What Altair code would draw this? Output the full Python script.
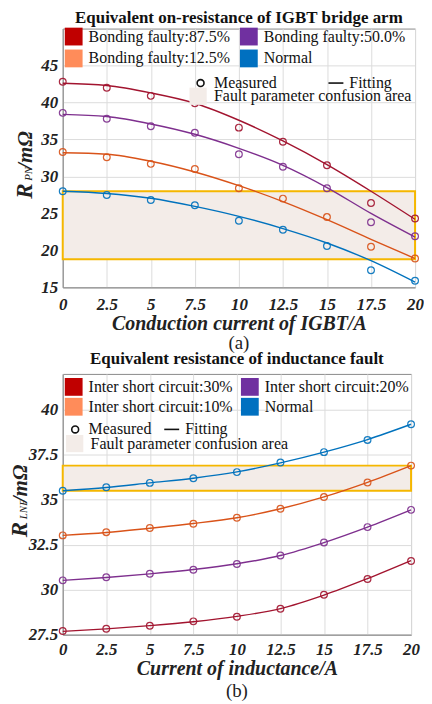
import altair as alt
import pandas as pd

# ---------------- data ----------------
currents = [0, 2.5, 5, 7.5, 10, 12.5, 15, 17.5, 20]

# (a) IGBT bridge arm
a_series = ["Bonding  faulty:87.5%", "Bonding  faulty:50.0%", "Bonding  faulty:12.5%", "Normal"]
a_meas_875 = [42.8, 42.0, 40.9, 39.9, 36.6, 34.7, 31.5, 26.4, 24.3]
a_meas_500 = [38.6, 37.8, 36.8, 35.9, 33.0, 31.3, 28.4, 23.8, 21.9]
a_meas_125 = [33.3, 32.6, 31.7, 31.0, 28.4, 27.0, 24.5, 20.5, 18.9]
a_meas_norm = [28.0, 27.5, 26.8, 26.1, 24.0, 22.8, 20.6, 17.3, 15.9]
a_fit_875 = [42.6, 42.3, 41.3, 39.9, 37.6, 34.8, 31.6, 28.0, 24.2]
a_fit_500 = [38.4, 38.1, 37.1, 35.7, 33.8, 31.5, 28.5, 25.0, 21.8]
a_fit_125 = [33.2, 33.0, 32.05, 30.6, 28.75, 26.6, 24.15, 21.5, 18.9]
a_fit_norm = [28.0, 27.7, 27.05, 25.95, 24.6, 22.95, 21.0, 18.6, 15.7]
a_area = [0, 20, 18.8, 28.0]  # x0, x1, y0, y1

# (b) inductance
b_series = ["Inter short circuit:30%", "Inter short circuit:20%", "Inter short circuit:10%", "Normal"]
b_meas_30 = [27.7, 27.83, 28.0, 28.24, 28.5, 28.94, 29.72, 30.6, 31.6]
b_meas_20 = [30.52, 30.69, 30.89, 31.11, 31.43, 31.9, 32.63, 33.48, 34.44]
b_meas_10 = [33.02, 33.2, 33.43, 33.67, 34.0, 34.5, 35.15, 35.96, 36.9]
b_meas_norm = [35.5, 35.7, 35.94, 36.2, 36.54, 37.07, 37.65, 38.33, 39.2]
b_fit_30 = [27.68, 27.82, 28.0, 28.22, 28.52, 28.95, 29.7, 30.62, 31.62]
b_fit_20 = [30.52, 30.68, 30.88, 31.12, 31.44, 31.9, 32.62, 33.48, 34.44]
b_fit_10 = [33.02, 33.18, 33.42, 33.68, 34.0, 34.5, 35.16, 35.97, 36.9]
b_fit_norm = [35.5, 35.68, 35.94, 36.2, 36.55, 37.05, 37.65, 38.35, 39.2]
b_area = [0, 20, 35.5, 36.9]

kinds = ["Measured", "Fitting"]
area_name = "Fault parameter confusion area"

line_colors = ["#A2142F", "#7E2F8E", "#D95319", "#0072BD"]
legend_colors = ["#C00000", "#7030A0", "#FF8C5A", "#0070C0"]

SERIF = "Liberation Serif"
GOLD = "#F5B700"
CIRCLE = "M-0.46,0A0.46,0.46 0 1,1 0.46,0A0.46,0.46 0 1,1 -0.46,0Z"
DASH = "M-1,0H1"


def long_df(series, lists):
    rows = []
    for s, vals in zip(series, lists):
        for x, v in zip(currents, vals):
            rows.append({"series": s, "x": x, "y": v})
    return pd.DataFrame(rows)


def panel(title, series, meas, fit, area, ydom, yticks, xtitle, w, h,
          ytitle_parts, tag, leg):
    dm = long_df(series, meas)
    dfit = long_df(series, fit)
    darea = pd.DataFrame({"x0": [area[0]], "x1": [area[1]], "y0": [area[2]],
                          "y1": [area[3]], "name": [area_name]})
    dkind = pd.DataFrame({"kind": kinds})

    xs = alt.Scale(domain=[0, 20], nice=False, zero=False)
    ys = alt.Scale(domain=ydom, nice=False, zero=False)
    xax = alt.Axis(values=currents, title=xtitle, grid=True, ticks=False,
                   labelExpr="'' + datum.value", labelFlush=False,
                   labelPadding=leg["lp"], titlePadding=1)
    yax = alt.Axis(values=yticks, title=None, grid=True, ticks=False,
                   labelExpr="'' + datum.value", labelFlush=False, labelPadding=5)

    stroke_scale = alt.Scale(domain=series, range=line_colors)

    rect = alt.Chart(darea).mark_rect(fill="#F3ECE8", stroke=GOLD, strokeWidth=2).encode(
        x=alt.X("x0:Q", scale=xs, axis=xax),
        x2="x1:Q",
        y=alt.Y("y0:Q", scale=ys, axis=yax),
        y2="y1:Q",
        opacity=alt.Opacity("name:O", scale=alt.Scale(domain=[area_name], range=[0.95]),
                            legend=alt.Legend(title=None, orient="none",
                                              legendX=leg["ax"], legendY=leg["ay"],
                                              symbolType="square", symbolSize=300,
                                              symbolStrokeWidth=2, symbolStrokeColor=GOLD,
                                              symbolFillColor="#F3ECE8",
                                              labelFont=SERIF, labelFontSize=16,
                                              labelColor="#111", labelOffset=6, padding=0,
                                              labelLimit=400)),
    )
    lines = alt.Chart(dfit).mark_line(strokeWidth=1.4, interpolate="monotone").encode(
        x=alt.X("x:Q", scale=xs),
        y=alt.Y("y:Q", scale=ys),
        stroke=alt.Stroke("series:N", scale=stroke_scale, legend=None),
        detail="series:N",
    )
    pts = alt.Chart(dm).mark_point(size=46, strokeWidth=1.2, filled=False, opacity=0.9).encode(
        x=alt.X("x:Q", scale=xs),
        y=alt.Y("y:Q", scale=ys),
        stroke=alt.Stroke("series:N", scale=stroke_scale, legend=None),
    )
    fill_leg = alt.Chart(dm).mark_square(opacity=0).encode(
        x=alt.X("x:Q", scale=xs),
        y=alt.Y("y:Q", scale=ys),
        fill=alt.Fill("series:N", scale=alt.Scale(domain=series, range=legend_colors),
                      sort=series,
                      legend=alt.Legend(title=None, orient="none", legendX=leg["fx"],
                                        legendY=leg["fy"], columns=2, direction="horizontal",
                                        symbolType="square",
                                        symbolSize=320, symbolOpacity=1, symbolStrokeWidth=0,
                                        labelFont=SERIF, labelFontSize=16, labelColor="#111",
                                        labelOffset=6, rowPadding=leg["rp"],
                                        columnPadding=leg["cp"], padding=0,
                                        labelLimit=300)),
    )
    shape_leg = alt.Chart(dkind).mark_point(opacity=0).encode(
        x=alt.value(0), y=alt.value(0),
        shape=alt.Shape("kind:N", scale=alt.Scale(domain=kinds, range=[CIRCLE, DASH]),
                        sort=kinds,
                        legend=alt.Legend(title=None, orient="none", legendX=leg["sx"],
                                          legendY=leg["sy"], columns=2, direction="horizontal",
                                          symbolSize=225,
                                          symbolOpacity=1, symbolStrokeColor="#111",
                                          symbolFillColor="transparent",
                                          symbolStrokeWidth=1.6,
                                          labelFont=SERIF, labelFontSize=16,
                                          labelColor="#111", labelOffset=5,
                                          columnPadding=leg["scp"], padding=0)),
    )

    texts = []
    (r_y, sub_y, unit_y, bx, sub_txt, unit_txt) = ytitle_parts
    texts.append(alt.Chart(dkind.head(1)).mark_text(
        text="R", angle=270, align="left", baseline="alphabetic", font=SERIF,
        fontSize=23, fontWeight="bold", fontStyle="italic", color="#222"
    ).encode(x=alt.value(bx), y=alt.value(r_y)))
    texts.append(alt.Chart(dkind.head(1)).mark_text(
        text=sub_txt, angle=270, align="left", baseline="alphabetic", font=SERIF,
        fontSize=11, fontStyle="italic", color="#222"
    ).encode(x=alt.value(bx), y=alt.value(sub_y)))
    texts.append(alt.Chart(dkind.head(1)).mark_text(
        text=unit_txt, angle=270, align="left", baseline="alphabetic", font=SERIF,
        fontSize=21, fontWeight="bold", fontStyle="italic", color="#222"
    ).encode(x=alt.value(bx), y=alt.value(unit_y)))
    texts.append(alt.Chart(dkind.head(1)).mark_text(
        text=tag, font=SERIF, fontSize=19, color="#222", baseline="middle"
    ).encode(x=alt.value(w / 2), y=alt.value(h + leg["tag"])))

    return alt.layer(rect, lines, pts, fill_leg, shape_leg, *texts).properties(
        width=w, height=h,
        title=alt.TitleParams(title, font=SERIF, fontSize=17, fontWeight="bold",
                              color="#111", anchor="middle", offset=leg["to"]),
    ).resolve_scale(fill="independent", shape="independent", opacity="independent")


top = panel("Equivalent on-resistance of IGBT bridge arm", a_series,
            [a_meas_875, a_meas_500, a_meas_125, a_meas_norm],
            [a_fit_875, a_fit_500, a_fit_125, a_fit_norm],
            a_area, [15, 50], [15, 20, 25, 30, 35, 40, 45],
            "Conduction current of IGBT/A", 354, 260,
            (171, 153, 141, -31, "PN", " /mΩ"), "(a)",
            {"fx": 2, "fy": -1, "rp": 4, "cp": 5, "sx": 130, "sy": 46, "scp": 47,
             "ax": 126, "ay": 58, "lp": 9, "tag": 56, "to": 0})

bot = panel("Equivalent resistance of inductance fault", b_series,
            [b_meas_30, b_meas_20, b_meas_10, b_meas_norm],
            [b_fit_30, b_fit_20, b_fit_10, b_fit_norm],
            b_area, [27.5, 42], [27.5, 30, 32.5, 35, 37.5, 40],
            "Current of inductance/A", 350, 262,
            (164, 146, 129, -36, "LNF", "/mΩ"), "(b)",
            {"fx": 2, "fy": 4, "rp": 2, "cp": 8, "sx": 4, "sy": 47, "scp": 8,
             "ax": 2, "ay": 60, "lp": 7, "tag": 57, "to": 5})

chart = alt.vconcat(top, bot, spacing=-5).properties(
    padding={"left": 0, "top": -1, "right": 0, "bottom": 0}
).configure_view(stroke="#8a8a8a", strokeWidth=1).configure_axis(
    labelFont=SERIF, labelFontSize=17, labelFontWeight="bold", labelFontStyle="italic",
    labelColor="#222", titleFont=SERIF, titleFontSize=20, titleFontWeight="bold",
    titleFontStyle="italic", titleColor="#222", gridColor="#dcdcdc", gridWidth=1,
    domainColor="#8a8a8a",
)

chart.save("out.html", embed_options={"renderer": "svg", "actions": False})
